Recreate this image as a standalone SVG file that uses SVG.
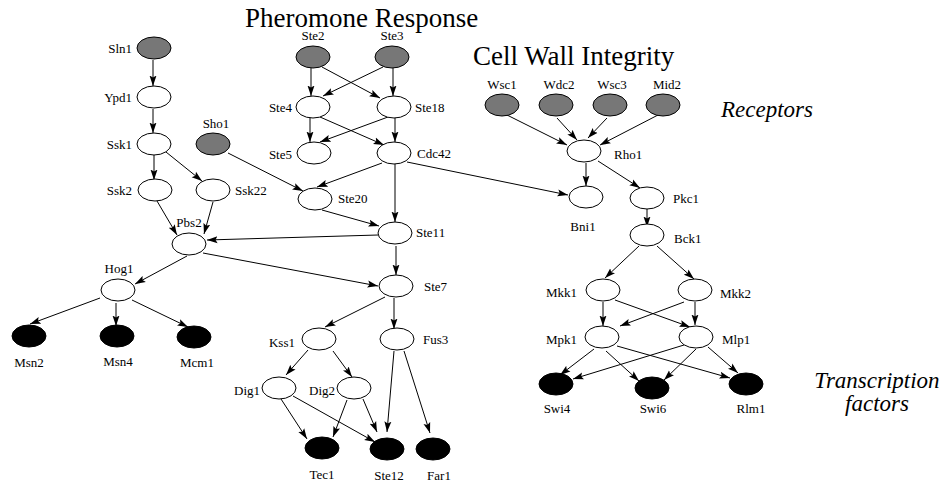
<svg xmlns="http://www.w3.org/2000/svg" width="945" height="484" viewBox="0 0 945 484">
<defs>
<marker id="arr" markerUnits="userSpaceOnUse" markerWidth="11" markerHeight="8" viewBox="0 0 11 8" refX="10.5" refY="4" orient="auto">
<path d="M0,0.5 L10.5,4 L0,7.5 L2,4 z" fill="#000"/>
</marker>
</defs>
<style>
.n ellipse{stroke:#000;stroke-width:1}
.w ellipse{fill:#fff}
.g ellipse{fill:#777}
.b ellipse{fill:#000}
text{font-size:13px;fill:#000}
.t{font-size:27px}
.i{font-style:italic;font-size:23px}
#edges line{stroke:#000;stroke-width:1;marker-end:url(#arr)}
</style>
<rect width="945" height="484" fill="#fff"/>
<g font-family="'Liberation Serif', 'Times New Roman', Times, 'DejaVu Serif', serif">
<text class="t" x="245" y="27">Pheromone Response</text>
<text class="t" x="473" y="65">Cell Wall Integrity</text>
<text class="i" x="721" y="117">Receptors</text>
<text class="i" x="877" y="388" text-anchor="middle">Transcription</text>
<text class="i" x="877" y="411" text-anchor="middle">factors</text>
<g id="edges">
<line x1="153" y1="60" x2="153" y2="86"/>
<line x1="153" y1="109" x2="153" y2="133"/>
<line x1="154" y1="155" x2="154" y2="180"/>
<line x1="166" y1="152" x2="202" y2="181"/>
<line x1="157" y1="201" x2="177" y2="235"/>
<line x1="213" y1="202" x2="204" y2="234"/>
<line x1="228" y1="153" x2="303" y2="191"/>
<line x1="311" y1="68" x2="311" y2="96"/>
<line x1="322" y1="67" x2="380" y2="98"/>
<line x1="383" y1="67" x2="323" y2="96"/>
<line x1="393" y1="68" x2="393" y2="96"/>
<line x1="310" y1="117" x2="310" y2="142"/>
<line x1="320" y1="117" x2="384" y2="145"/>
<line x1="388" y1="117" x2="320" y2="142"/>
<line x1="395" y1="117" x2="395" y2="142"/>
<line x1="382" y1="163" x2="317" y2="187"/>
<line x1="395" y1="164" x2="395" y2="222"/>
<line x1="407" y1="162" x2="568" y2="195"/>
<line x1="322" y1="210" x2="379" y2="226"/>
<line x1="378" y1="235" x2="207" y2="240"/>
<line x1="396" y1="246" x2="396" y2="275"/>
<line x1="187" y1="256" x2="135" y2="284"/>
<line x1="203" y1="253" x2="378" y2="286"/>
<line x1="100" y1="298" x2="30" y2="324"/>
<line x1="116" y1="303" x2="116" y2="326"/>
<line x1="132" y1="300" x2="188" y2="327"/>
<line x1="385" y1="297" x2="325" y2="327"/>
<line x1="394" y1="298" x2="394" y2="329"/>
<line x1="308" y1="350" x2="286" y2="375"/>
<line x1="333" y1="351" x2="352" y2="377"/>
<line x1="281" y1="399" x2="307" y2="439"/>
<line x1="293" y1="396" x2="375" y2="442"/>
<line x1="347" y1="400" x2="333" y2="437"/>
<line x1="363" y1="399" x2="377" y2="432"/>
<line x1="394" y1="351" x2="387" y2="432"/>
<line x1="404" y1="351" x2="430" y2="433"/>
<line x1="507" y1="115" x2="567" y2="145"/>
<line x1="557" y1="118" x2="577" y2="140"/>
<line x1="607" y1="118" x2="588" y2="138"/>
<line x1="658" y1="115" x2="600" y2="145"/>
<line x1="586" y1="163" x2="586" y2="186"/>
<line x1="598" y1="161" x2="640" y2="188"/>
<line x1="647" y1="209" x2="647" y2="227"/>
<line x1="639" y1="246" x2="605" y2="278"/>
<line x1="657" y1="246" x2="694" y2="279"/>
<line x1="603" y1="302" x2="603" y2="326"/>
<line x1="615" y1="300" x2="690" y2="327"/>
<line x1="684" y1="302" x2="620" y2="326"/>
<line x1="695" y1="302" x2="695" y2="325"/>
<line x1="594" y1="349" x2="560" y2="375"/>
<line x1="606" y1="351" x2="639" y2="381"/>
<line x1="617" y1="346" x2="730" y2="378"/>
<line x1="684" y1="345" x2="573" y2="379"/>
<line x1="696" y1="349" x2="664" y2="380"/>
<line x1="708" y1="347" x2="738" y2="373"/>
</g>
<g id="Sln1" class="n g"><ellipse cx="154" cy="48" rx="17" ry="11"/><text x="132" y="53" text-anchor="end">Sln1</text></g>
<g id="Ypd1" class="n w"><ellipse cx="154" cy="97" rx="17" ry="11"/><text x="132" y="102" text-anchor="end">Ypd1</text></g>
<g id="Ssk1" class="n w"><ellipse cx="154" cy="144" rx="17" ry="11"/><text x="132" y="149" text-anchor="end">Ssk1</text></g>
<g id="Sho1" class="n g"><ellipse cx="213" cy="144" rx="17" ry="11"/><text x="216" y="128" text-anchor="middle">Sho1</text></g>
<g id="Ssk2" class="n w"><ellipse cx="155" cy="190" rx="17" ry="11"/><text x="132" y="195" text-anchor="end">Ssk2</text></g>
<g id="Ssk22" class="n w"><ellipse cx="213" cy="190" rx="17" ry="11"/><text x="235" y="195">Ssk22</text></g>
<g id="Pbs2" class="n w"><ellipse cx="189" cy="244" rx="17" ry="11"/><text x="189" y="227" text-anchor="middle">Pbs2</text></g>
<g id="Hog1" class="n w"><ellipse cx="118" cy="290" rx="17" ry="11"/><text x="119" y="273" text-anchor="middle">Hog1</text></g>
<g id="Msn2" class="n b"><ellipse cx="29" cy="336" rx="17" ry="11"/><text x="29" y="367" text-anchor="middle">Msn2</text></g>
<g id="Msn4" class="n b"><ellipse cx="117" cy="336" rx="17" ry="11"/><text x="118" y="366" text-anchor="middle">Msn4</text></g>
<g id="Mcm1" class="n b"><ellipse cx="194" cy="337" rx="17" ry="11"/><text x="197" y="367" text-anchor="middle">Mcm1</text></g>
<g id="Ste2" class="n g"><ellipse cx="313" cy="57" rx="17" ry="11"/><text x="313" y="40" text-anchor="middle">Ste2</text></g>
<g id="Ste3" class="n g"><ellipse cx="392" cy="57" rx="17" ry="11"/><text x="392" y="40" text-anchor="middle">Ste3</text></g>
<g id="Ste4" class="n w"><ellipse cx="313" cy="107" rx="17" ry="11"/><text x="292" y="112" text-anchor="end">Ste4</text></g>
<g id="Ste18" class="n w"><ellipse cx="394" cy="107" rx="17" ry="11"/><text x="415" y="112">Ste18</text></g>
<g id="Ste5" class="n w"><ellipse cx="314" cy="153" rx="17" ry="11"/><text x="292" y="159" text-anchor="end">Ste5</text></g>
<g id="Cdc42" class="n w"><ellipse cx="394" cy="153" rx="17" ry="11"/><text x="417" y="158">Cdc42</text></g>
<g id="Ste20" class="n w"><ellipse cx="315" cy="199" rx="17" ry="11"/><text x="338" y="203">Ste20</text></g>
<g id="Ste11" class="n w"><ellipse cx="395" cy="233" rx="17" ry="11"/><text x="416" y="237">Ste11</text></g>
<g id="Ste7" class="n w"><ellipse cx="396" cy="286" rx="17" ry="11"/><text x="424" y="291">Ste7</text></g>
<g id="Kss1" class="n w"><ellipse cx="319" cy="339" rx="17" ry="11"/><text x="295" y="347" text-anchor="end">Kss1</text></g>
<g id="Fus3" class="n w"><ellipse cx="397" cy="339" rx="17" ry="11"/><text x="423" y="344">Fus3</text></g>
<g id="Dig1" class="n w"><ellipse cx="279" cy="388" rx="17" ry="11"/><text x="260" y="395" text-anchor="end">Dig1</text></g>
<g id="Dig2" class="n w"><ellipse cx="354" cy="388" rx="17" ry="11"/><text x="335" y="395" text-anchor="end">Dig2</text></g>
<g id="Tec1" class="n b"><ellipse cx="322" cy="448" rx="17" ry="11"/><text x="322" y="479" text-anchor="middle">Tec1</text></g>
<g id="Ste12" class="n b"><ellipse cx="387" cy="449" rx="17" ry="11"/><text x="389" y="480" text-anchor="middle">Ste12</text></g>
<g id="Far1" class="n b"><ellipse cx="433" cy="449" rx="17" ry="11"/><text x="439" y="480" text-anchor="middle">Far1</text></g>
<g id="Wsc1" class="n g"><ellipse cx="502" cy="105" rx="17" ry="11"/><text x="502" y="89" text-anchor="middle">Wsc1</text></g>
<g id="Wdc2" class="n g"><ellipse cx="556" cy="105" rx="17" ry="11"/><text x="559" y="89" text-anchor="middle">Wdc2</text></g>
<g id="Wsc3" class="n g"><ellipse cx="610" cy="105" rx="17" ry="11"/><text x="612" y="89" text-anchor="middle">Wsc3</text></g>
<g id="Mid2" class="n g"><ellipse cx="663" cy="105" rx="17" ry="11"/><text x="667" y="89" text-anchor="middle">Mid2</text></g>
<g id="Rho1" class="n w"><ellipse cx="584" cy="151" rx="17" ry="11"/><text x="614" y="159">Rho1</text></g>
<g id="Bni1" class="n w"><ellipse cx="586" cy="197" rx="17" ry="11"/><text x="583" y="231" text-anchor="middle">Bni1</text></g>
<g id="Pkc1" class="n w"><ellipse cx="647" cy="198" rx="17" ry="11"/><text x="673" y="203">Pkc1</text></g>
<g id="Bck1" class="n w"><ellipse cx="647" cy="235" rx="17" ry="11"/><text x="674" y="243">Bck1</text></g>
<g id="Mkk1" class="n w"><ellipse cx="603" cy="290" rx="17" ry="11"/><text x="577" y="297" text-anchor="end">Mkk1</text></g>
<g id="Mkk2" class="n w"><ellipse cx="695" cy="290" rx="17" ry="11"/><text x="720" y="298">Mkk2</text></g>
<g id="Mpk1" class="n w"><ellipse cx="602" cy="337" rx="17" ry="11"/><text x="577" y="344" text-anchor="end">Mpk1</text></g>
<g id="Mlp1" class="n w"><ellipse cx="696" cy="337" rx="17" ry="11"/><text x="722" y="344">Mlp1</text></g>
<g id="Swi4" class="n b"><ellipse cx="556" cy="384" rx="17" ry="11"/><text x="557" y="413" text-anchor="middle">Swi4</text></g>
<g id="Swi6" class="n b"><ellipse cx="652" cy="388" rx="17" ry="11"/><text x="653" y="413" text-anchor="middle">Swi6</text></g>
<g id="Rlm1" class="n b"><ellipse cx="746" cy="384" rx="17" ry="11"/><text x="751" y="413" text-anchor="middle">Rlm1</text></g>
</g>
</svg>
